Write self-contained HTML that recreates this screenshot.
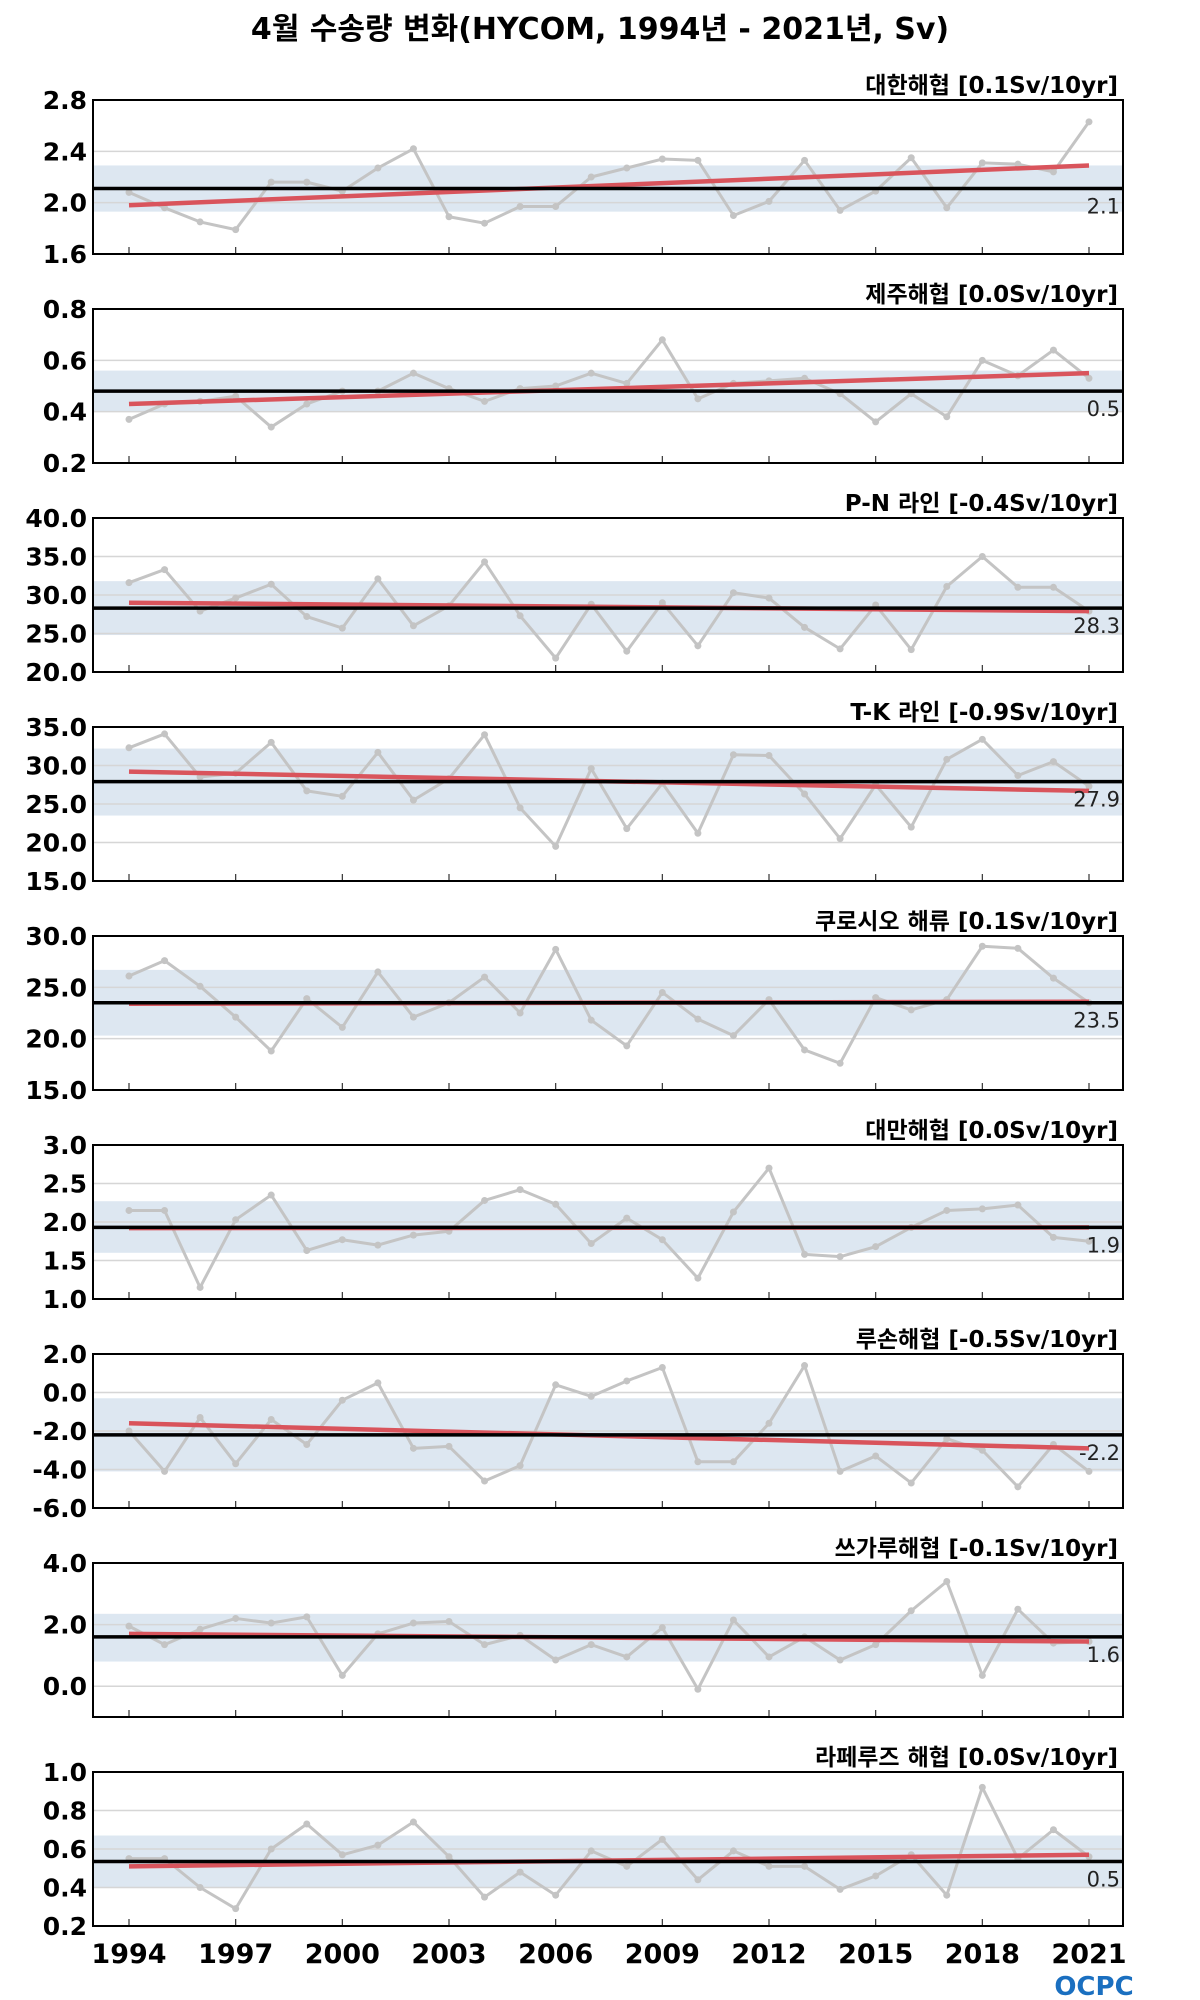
<!DOCTYPE html>
<html><head><meta charset="utf-8">
<style>
html,body{margin:0;padding:0;background:#fff;}
svg{display:block;}
text{font-family:"DejaVu Sans","Liberation Sans","Noto Sans CJK KR",sans-serif;}
</style></head>
<body>
<svg id="chart" width="1200" height="2000" viewBox="0 0 1200 2000" xmlns="http://www.w3.org/2000/svg">
<text x="600" y="39" text-anchor="middle" font-size="30" font-weight="bold">4월 수송량 변화(HYCOM, 1994년 - 2021년, Sv)</text>
<text x="1094" y="1995" text-anchor="middle" font-size="26" font-weight="bold" fill="#1a6fc0">OCPC</text>
</svg>
<script>
const years = [1994,1995,1996,1997,1998,1999,2000,2001,2002,2003,2004,2005,2006,2007,2008,2009,2010,2011,2012,2013,2014,2015,2016,2017,2018,2019,2020,2021];
const xTickYears = [1994,1997,2000,2003,2006,2009,2012,2015,2018,2021];
const panelTitles = ["대한해협 [0.1Sv/10yr]","제주해협 [0.0Sv/10yr]","P-N 라인 [-0.4Sv/10yr]","T-K 라인 [-0.9Sv/10yr]","쿠로시오 해류 [0.1Sv/10yr]","대만해협 [0.0Sv/10yr]","루손해협 [-0.5Sv/10yr]","쓰가루해협 [-0.1Sv/10yr]","라페루즈 해협 [0.0Sv/10yr]"];
const s1 = [2.08,1.96,1.85,1.79,2.16,2.16,2.09,2.27,2.42,1.89,1.84,1.97,1.97,2.20,2.27,2.34,2.33,1.90,2.01,2.33,1.94,2.09,2.35,1.96,2.31,2.30,2.24,2.63];
const s2 = [0.37,0.43,0.44,0.46,0.34,0.43,0.48,0.48,0.55,0.49,0.44,0.49,0.50,0.55,0.51,0.68,0.45,0.51,0.52,0.53,0.47,0.36,0.47,0.38,0.60,0.54,0.64,0.53];
const s3 = [31.6,33.3,27.9,29.6,31.4,27.2,25.7,32.1,26.0,28.6,34.3,27.3,21.8,28.8,22.7,29.0,23.4,30.3,29.6,25.8,23.0,28.7,22.9,31.1,35.0,31.0,31.0,27.9];
const s4 = [32.3,34.1,28.5,29.0,33.0,26.7,26.0,31.7,25.5,28.3,34.0,24.5,19.5,29.6,21.8,27.7,21.2,31.4,31.3,26.3,20.5,27.5,22.0,30.8,33.4,28.7,30.5,27.3];
const s5 = [26.1,27.6,25.1,22.1,18.8,23.9,21.1,26.5,22.1,23.5,26.0,22.5,28.7,21.8,19.3,24.5,21.9,20.3,23.8,18.9,17.6,24.0,22.8,23.8,29.0,28.8,25.9,23.5];
const s6 = [2.15,2.15,1.15,2.03,2.35,1.63,1.77,1.70,1.83,1.88,2.28,2.42,2.23,1.72,2.05,1.77,1.27,2.13,2.70,1.58,1.55,1.68,1.93,2.15,2.17,2.22,1.80,1.75];
const s7 = [-2.0,-4.1,-1.3,-3.7,-1.4,-2.7,-0.4,0.5,-2.9,-2.8,-4.6,-3.8,0.4,-0.2,0.6,1.3,-3.6,-3.6,-1.6,1.4,-4.1,-3.3,-4.7,-2.4,-3.0,-4.9,-2.7,-4.1];
const s8 = [1.95,1.35,1.85,2.2,2.05,2.25,0.35,1.7,2.05,2.1,1.35,1.65,0.85,1.35,0.95,1.9,-0.1,2.15,0.95,1.6,0.85,1.35,2.45,3.4,0.35,2.5,1.4,1.45];
const s9 = [0.55,0.55,0.40,0.29,0.60,0.73,0.57,0.62,0.74,0.56,0.35,0.48,0.36,0.59,0.51,0.65,0.44,0.59,0.51,0.51,0.39,0.46,0.57,0.36,0.92,0.55,0.70,0.56];
const seriesList = [s1,s2,s3,s4,s5,s6,s7,s8,s9];
const means = [2.11,0.48,28.3,27.9,23.5,1.93,-2.2,1.6,0.535];
const meanLabels = ["2.1","0.5","28.3","27.9","23.5","1.9","-2.2","1.6","0.5"];
const bandLow = [1.93,0.40,24.8,23.5,20.3,1.60,-4.1,0.8,0.40];
const bandHigh = [2.29,0.56,31.8,32.2,26.7,2.27,-0.3,2.35,0.67];
const trendStart = [1.98,0.43,29.0,29.2,23.4,1.92,-1.6,1.7,0.51];
const trendEnd = [2.29,0.55,27.9,26.7,23.6,1.93,-2.9,1.45,0.57];
const yMin = [1.6,0.2,20,15,15,1.0,-6,-1,0.2];
const yMax = [2.8,0.8,40,35,30,3.0,2,4,1.0];
const yTicks = [[1.6,2.0,2.4,2.8],[0.2,0.4,0.6,0.8],[20,25,30,35,40],[15,20,25,30,35],[15,20,25,30],[1.0,1.5,2.0,2.5,3.0],[-6,-4,-2,0,2],[0,2,4],[0.2,0.4,0.6,0.8,1.0]];

const NS="http://www.w3.org/2000/svg";
const svg=document.getElementById('chart');
const L=93,R=1123,TOP0=100,STEP=209,H=154;
function xs(yr){return 129+(yr-1994)*(1089-129)/27;}
function mk(tag,attrs,parent){const e=document.createElementNS(NS,tag);for(const k in attrs)e.setAttribute(k,attrs[k]);(parent||svg).appendChild(e);return e;}
function fmt(v){return v.toFixed(1);}

seriesList.forEach((data,p)=>{
  const top=TOP0+p*STEP, bot=top+H;
  const ys=v=>bot-(v-yMin[p])/(yMax[p]-yMin[p])*H;
  const g=mk('g',{});
  
  
  const clipId='clip'+p;
  const cp=mk('clipPath',{id:clipId},g);mk('rect',{x:L,y:top,width:R-L,height:H},cp);
  const band=mk('rect',{x:L,y:ys(bandHigh[p]),width:R-L,height:ys(bandLow[p])-ys(bandHigh[p]),fill:'#dde7f1'},g);
  
  
  yTicks[p].forEach(t=>{
    const y=ys(t);
    if(y>top+1&&y<bot-1){const gl=mk('line',{x1:L,x2:R,y1:y,y2:y,stroke:'#d6d6d6','stroke-width':1.5},g);
      
      }
    const tl=mk('text',{x:L-6,y:y+9,'text-anchor':'end','font-size':25,'font-weight':'bold'},g);
    tl.textContent=fmt(t);
    
    
  });
  xTickYears.forEach(yr=>{const tk=mk('line',{x1:xs(yr),x2:xs(yr),y1:bot,y2:bot-7,stroke:'#333','stroke-width':1.2},g);
    
    });
  const cg=mk('g',{'clip-path':'url(#'+clipId+')'},g);
  const pts=data.map((v,i)=>xs(years[i])+','+ys(v)).join(' ');
  const pl=mk('polyline',{points:pts,fill:'none',stroke:'#c4c4c4','stroke-width':3,'stroke-linejoin':'round'},cg);
  
  
  data.forEach((v,i)=>{const c=mk('circle',{cx:xs(years[i]),cy:ys(v),r:3.5,fill:'#c4c4c4'},cg);
    
    });
  const tr=mk('line',{x1:xs(1994),x2:xs(2021),y1:ys(trendStart[p]),y2:ys(trendEnd[p]),stroke:'#d9545c','stroke-width':4.5},cg);
  
  
  const ml=mk('line',{x1:L,x2:R,y1:ys(means[p]),y2:ys(means[p]),stroke:'#000','stroke-width':3.5},g);
  
  
  const mt=mk('text',{x:R-3,y:ys(means[p])+25,'text-anchor':'end','font-size':21,fill:'#222'},g);
  mt.textContent=meanLabels[p];
  
  
  const fr=mk('rect',{x:L,y:top,width:R-L,height:H,fill:'none',stroke:'#000','stroke-width':2},g);
  
  
  const pt=mk('text',{x:R-5,y:top-7,'text-anchor':'end','font-size':23,'font-weight':'bold'},g);
  pt.textContent=panelTitles[p];
  
  
  if(p===seriesList.length-1){
    xTickYears.forEach(yr=>{const xl=mk('text',{x:xs(yr),y:bot+37,'text-anchor':'middle','font-size':27,'font-weight':'bold'},g);
      xl.textContent=yr;
      
      });
  }
});
</script>
</body></html>
